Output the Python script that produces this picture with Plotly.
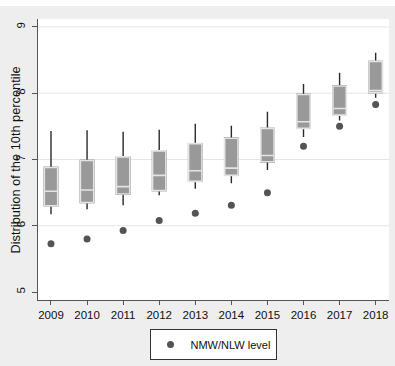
import plotly.graph_objects as go

years = [2009, 2010, 2011, 2012, 2013, 2014, 2015, 2016, 2017, 2018]
upper = [7.43, 7.44, 7.42, 7.45, 7.54, 7.51, 7.72, 8.14, 8.31, 8.61]
q3 = [6.88, 6.985, 7.04, 7.13, 7.24, 7.32, 7.47, 7.98, 8.11, 8.48]
median = [6.52, 6.54, 6.59, 6.76, 6.83, 6.87, 7.06, 7.57, 7.77, 8.04]
q1 = [6.30, 6.35, 6.48, 6.53, 6.67, 6.76, 6.965, 7.47, 7.67, 8.005]
lower = [6.175, 6.25, 6.31, 6.46, 6.56, 6.64, 6.84, 7.34, 7.59, 7.93]
nmw = [5.73, 5.80, 5.93, 6.08, 6.19, 6.31, 6.50, 7.20, 7.50, 7.83]

y_ticks = [5, 6, 7, 8, 9]
grid_vals = [6, 7, 8, 9]
y_title = "Distribution of the 10th percentile"
legend_label = "NMW/NLW level"

FONT = "Liberation Sans, Arial, sans-serif"

fig = go.Figure()

# whiskers (dark)
fig.add_trace(go.Box(
    x=years, q1=q1, median=median, q3=q3, lowerfence=lower, upperfence=upper,
    width=0.37, whiskerwidth=0, fillcolor="#999999",
    line=dict(color="#2a2a2a", width=1.4),
    boxpoints=False, showlegend=False, hoverinfo="skip",
))
# boxes (grey fill, light outline / median)
fig.add_trace(go.Box(
    x=years, q1=q1, median=median, q3=q3, lowerfence=q1, upperfence=q3,
    width=0.37, whiskerwidth=0, fillcolor="#999999",
    line=dict(color="#e4e4e4", width=1.6),
    boxpoints=False, showlegend=False,
))
fig.add_trace(go.Scatter(
    x=years, y=nmw, mode="markers", name=legend_label,
    marker=dict(color="#545454", size=7),
))

for g in grid_vals:
    fig.add_hline(y=g, line=dict(color="#e6e6e6", width=1), layer="below")

fig.add_shape(type="rect", xref="paper", yref="paper", x0=-0.2, x1=1.1,
              y0=1.046, y1=1.08, fillcolor="white", line=dict(width=0))

fig.add_annotation(
    text=y_title, xref="paper", yref="paper", x=-0.0627, y=0.5,
    xanchor="center", yanchor="middle", textangle=-90, showarrow=False,
    font=dict(family=FONT, size=12.8, color="#111111"),
)

fig.update_layout(
    width=395, height=366,
    margin=dict(l=38, r=6, t=19, b=66),
    paper_bgcolor="#eeeeee", plot_bgcolor="white",
    boxmode="overlay",
    font=dict(family=FONT, size=11, color="#111111"),
    xaxis=dict(
        range=[2008.64, 2018.37], tickmode="array", tickvals=years,
        ticktext=[str(y) for y in years], showgrid=False, zeroline=False,
        showline=True, linecolor="#555555", linewidth=1,
        ticks="outside", ticklen=4, tickcolor="#555555",
        tickfont=dict(family=FONT, size=11.5, color="#111111"),
    ),
    yaxis=dict(
        range=[4.88, 9.12], tickmode="array", tickvals=y_ticks,
        showgrid=False, zeroline=False,
        showline=True, linecolor="#555555", linewidth=1,
        ticks="outside", ticklen=5, tickcolor="#555555", tickangle=-90,
        ticklabelstandoff=2,
        tickfont=dict(family=FONT, size=11.5, color="#111111"),
    ),
    legend=dict(
        x=0.4986, xanchor="center", y=-0.1032, yanchor="top",
        bgcolor="white", bordercolor="#333333", borderwidth=1,
        font=dict(family=FONT, size=11, color="#111111"),
        itemwidth=30,
    ),
    showlegend=True,
)

fig.write_html("out.html")
